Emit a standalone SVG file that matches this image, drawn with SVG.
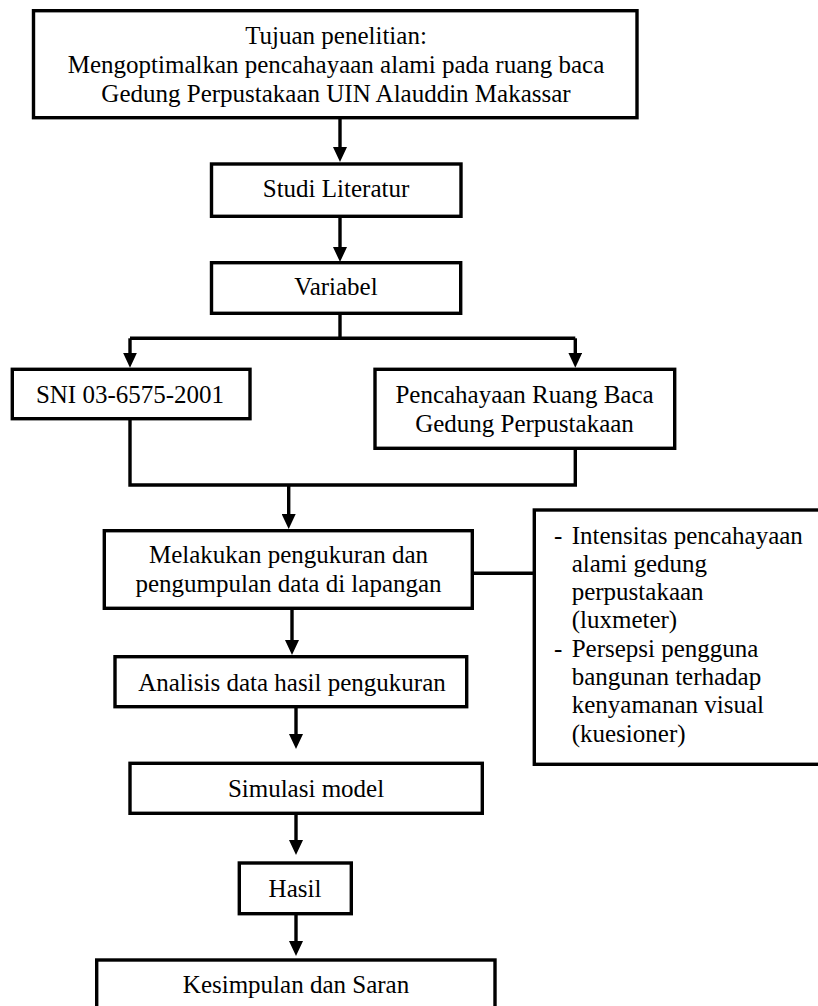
<svg xmlns="http://www.w3.org/2000/svg" width="818" height="1006" viewBox="0 0 818 1006">
<style>
  .box { fill: #ffffff; stroke: #000000; stroke-width: 3.4; }
  .t { font-family: "Liberation Serif", "Times New Roman", serif; font-size: 25px; fill: #000000; text-anchor: middle; }
  .tl { font-family: "Liberation Serif", "Times New Roman", serif; font-size: 25px; fill: #000000; text-anchor: start; }
  .c { fill: none; stroke: #000000; stroke-width: 3.4; }
</style>
<defs>
  <marker id="ah" markerUnits="userSpaceOnUse" viewBox="0 0 15 14" refX="5" refY="7" markerWidth="15" markerHeight="14" orient="auto">
    <path d="M0,0 L15,7 L0,14 Z" fill="#000000"/>
  </marker>
</defs>
<rect width="818" height="1006" fill="#ffffff"/>

<g id="connectors">
  <path class="c" d="M340,118 V152" marker-end="url(#ah)"/>
  <path class="c" d="M340,217 V252" marker-end="url(#ah)"/>
  <path class="c" d="M340,313 V338.3"/>
  <path class="c" d="M130,338.3 H575.3"/>
  <path class="c" d="M130,338.3 V357.7" marker-end="url(#ah)"/>
  <path class="c" d="M575.3,338.3 V357.7" marker-end="url(#ah)"/>
  <path class="c" d="M130,419 V485 H575.3 V448.3"/>
  <path class="c" d="M288.7,485 V519" marker-end="url(#ah)"/>
  <path class="c" d="M472.3,573.3 H534.3"/>
  <path class="c" d="M292,609 V645" marker-end="url(#ah)"/>
  <path class="c" d="M296,707 V739" marker-end="url(#ah)"/>
  <path class="c" d="M296,814 V845" marker-end="url(#ah)"/>
  <path class="c" d="M296,914 V946" marker-end="url(#ah)"/>
</g>

<g id="tujuan">
  <rect class="box" x="33.5" y="10.7" width="603.5" height="107"/>
  <text class="t" x="336" y="43.5">Tujuan penelitian:</text>
  <text class="t" x="336" y="72.5">Mengoptimalkan pencahayaan alami pada ruang baca</text>
  <text class="t" x="336" y="101.5">Gedung Perpustakaan UIN Alauddin Makassar</text>
</g>

<g id="studi">
  <rect class="box" x="211.5" y="164" width="249.5" height="52.3"/>
  <text class="t" x="336" y="197">Studi Literatur</text>
</g>

<g id="variabel">
  <rect class="box" x="211.5" y="262.7" width="249.2" height="50.6"/>
  <text class="t" x="336" y="295">Variabel</text>
</g>

<g id="sni">
  <rect class="box" x="12.3" y="369.3" width="237.7" height="49.4"/>
  <text class="t" x="130" y="403">SNI 03-6575-2001</text>
</g>

<g id="pencahayaan">
  <rect class="box" x="375" y="369.3" width="299.7" height="79"/>
  <text class="t" x="524.5" y="403.3">Pencahayaan Ruang Baca</text>
  <text class="t" x="524.5" y="431.7">Gedung Perpustakaan</text>
</g>

<g id="melakukan">
  <rect class="box" x="104.3" y="530.7" width="368" height="77.6"/>
  <text class="t" x="288.5" y="563">Melakukan pengukuran dan</text>
  <text class="t" x="288.5" y="592">pengumpulan data di lapangan</text>
</g>

<g id="daftar">
  <rect class="box" x="534.3" y="510" width="300" height="254.3"/>
  <text class="tl" x="554" y="543.5">-</text>
  <text class="tl" x="571.7" y="543.5">Intensitas pencahayaan</text>
  <text class="tl" x="571.7" y="571.8">alami gedung</text>
  <text class="tl" x="571.7" y="600.1">perpustakaan</text>
  <text class="tl" x="571.7" y="628.4">(luxmeter)</text>
  <text class="tl" x="554" y="656.7">-</text>
  <text class="tl" x="571.7" y="656.7">Persepsi pengguna</text>
  <text class="tl" x="571.7" y="685">bangunan terhadap</text>
  <text class="tl" x="571.7" y="713.3">kenyamanan visual</text>
  <text class="tl" x="571.7" y="741.6">(kuesioner)</text>
</g>

<g id="analisis">
  <rect class="box" x="115" y="656.7" width="351.7" height="50"/>
  <text class="t" x="292" y="690.7">Analisis data hasil pengukuran</text>
</g>

<g id="simulasi">
  <rect class="box" x="130" y="763.3" width="352.3" height="50"/>
  <text class="t" x="306" y="796.7">Simulasi model</text>
</g>

<g id="hasil">
  <rect class="box" x="239.3" y="863" width="112" height="50.7"/>
  <text class="t" x="295" y="897.3">Hasil</text>
</g>

<g id="kesimpulan">
  <rect class="box" x="96.7" y="960" width="398.3" height="60"/>
  <text class="t" x="296" y="993.3">Kesimpulan dan Saran</text>
</g>
</svg>
